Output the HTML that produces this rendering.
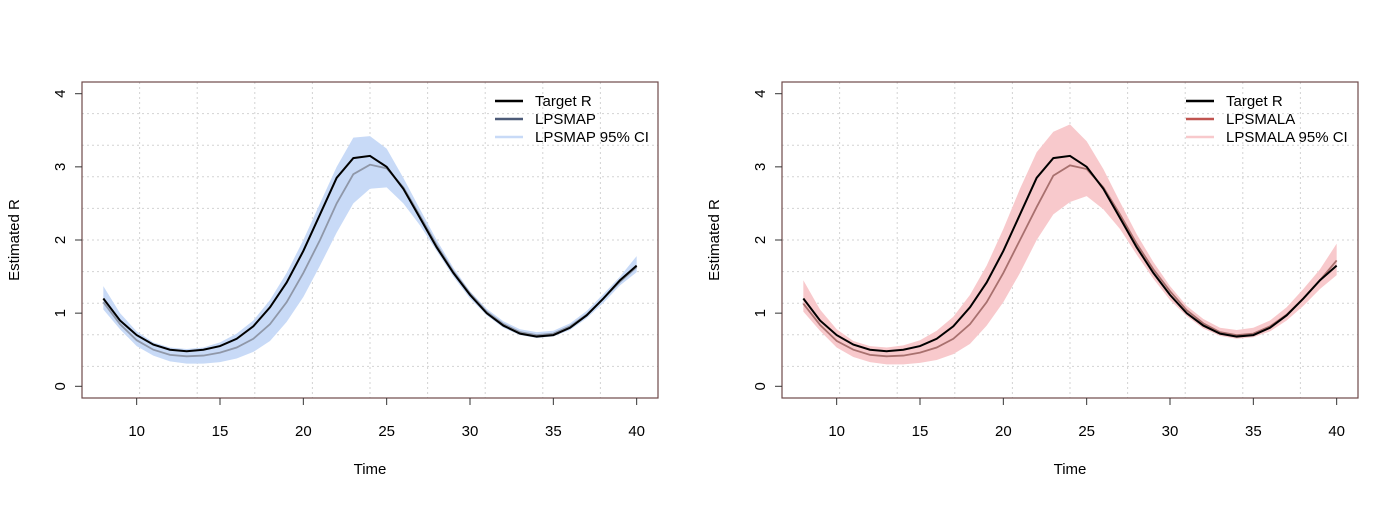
<!DOCTYPE html>
<html><head><meta charset="utf-8">
<style>
html,body{margin:0;padding:0;background:#fff;}
svg text{font-family:"Liberation Sans",Arial,sans-serif;fill:#000;}
</style></head>
<body>
<svg id="chart" width="1400" height="500" xmlns="http://www.w3.org/2000/svg"></svg>
<script>
const times = [8,9,10,11,12,13,14,15,16,17,18,19,20,21,22,23,24,25,26,27,28,29,30,31,32,33,34,35,36,37,38,39,40];
const targetR = [1.2,0.9,0.7,0.57,0.5,0.48,0.5,0.55,0.65,0.82,1.08,1.42,1.85,2.35,2.85,3.12,3.15,3.0,2.7,2.3,1.9,1.55,1.25,1.0,0.83,0.72,0.68,0.7,0.8,0.97,1.2,1.45,1.65];
const mapMean = [1.15,0.85,0.63,0.5,0.43,0.41,0.42,0.46,0.53,0.65,0.85,1.15,1.55,2.0,2.5,2.9,3.03,2.98,2.72,2.33,1.93,1.57,1.27,1.02,0.85,0.74,0.7,0.72,0.82,0.98,1.2,1.43,1.63];
const mapLower = [1.05,0.78,0.55,0.42,0.34,0.31,0.31,0.33,0.38,0.47,0.62,0.88,1.22,1.65,2.1,2.5,2.7,2.72,2.5,2.2,1.85,1.5,1.2,0.97,0.8,0.7,0.66,0.68,0.77,0.93,1.14,1.38,1.56];
const mapUpper = [1.37,1.0,0.75,0.6,0.53,0.51,0.53,0.6,0.72,0.9,1.18,1.55,2.0,2.5,3.0,3.4,3.42,3.25,2.85,2.42,2.0,1.62,1.3,1.06,0.89,0.78,0.74,0.76,0.86,1.03,1.26,1.5,1.78];
const malaMean = [1.13,0.84,0.62,0.5,0.43,0.41,0.42,0.46,0.53,0.65,0.85,1.15,1.55,2.0,2.45,2.88,3.02,2.97,2.72,2.35,1.95,1.6,1.3,1.04,0.86,0.74,0.7,0.72,0.82,0.98,1.2,1.45,1.72];
const malaLower = [1.02,0.76,0.53,0.4,0.33,0.3,0.3,0.32,0.36,0.44,0.58,0.83,1.15,1.55,2.0,2.35,2.52,2.6,2.42,2.15,1.8,1.47,1.18,0.96,0.79,0.69,0.65,0.67,0.75,0.9,1.1,1.33,1.52];
const malaUpper = [1.45,1.05,0.78,0.62,0.55,0.53,0.56,0.63,0.76,0.95,1.25,1.65,2.15,2.7,3.2,3.48,3.58,3.35,2.97,2.52,2.08,1.7,1.37,1.1,0.92,0.8,0.77,0.8,0.9,1.08,1.33,1.6,1.95];
const xTicks = [10,15,20,25,30,35,40];
const yTicks = [0,1,2,3,4];

const svg = document.getElementById('chart');
const NS = 'http://www.w3.org/2000/svg';
function mk(tag, attrs, parent){const e=document.createElementNS(NS,tag);for(const k in attrs)e.setAttribute(k,attrs[k]);(parent||svg).appendChild(e);return e;}

function panel(ox, name, mean, lower, upper, fillCol, lineCol, legCol, label){
  const g = mk('g',{});
  
  
  const L=82+ox, R=658+ox, T=82, B=398;
  const x0=6.72, x1=41.28, y0=-0.16, y1=4.16;
  const sx=t=>L+(t-x0)/(x1-x0)*(R-L);
  const sy=v=>B-(v-y0)/(y1-y0)*(B-T);
  const grid = mk('g',{stroke:'#d3d3d3','stroke-dasharray':'2,3','stroke-width':1},g);
  
  
  for(let k=1;k<10;k++){
    const gx=x0+(x1-x0)*k/10, gy=y0+(y1-y0)*k/10;
    mk('line',{x1:sx(gx),x2:sx(gx),y1:T,y2:B},grid);
    mk('line',{x1:L,x2:R,y1:sy(gy),y2:sy(gy)},grid);
  }
  let d='';
  times.forEach((t,i)=>{d+=(i?'L':'M')+sx(t)+','+sy(upper[i]);});
  for(let i=times.length-1;i>=0;i--) d+='L'+sx(times[i])+','+sy(lower[i]);
  const band=mk('path',{d:d+'Z',fill:fillCol,stroke:'none'},g);
  
  
  const ml=mk('polyline',{points:times.map((t,i)=>sx(t)+','+sy(mean[i])).join(' '),fill:'none',stroke:lineCol,'stroke-width':1.8},g);
  
  
  const tl=mk('polyline',{points:times.map((t,i)=>sx(t)+','+sy(targetR[i])).join(' '),fill:'none',stroke:'#000','stroke-width':2},g);
  
  
  const box=mk('rect',{x:L,y:T,width:R-L,height:B-T,fill:'none',stroke:'#6e4a4a','stroke-width':1.2},g);
  
  
  xTicks.forEach(t=>{
    mk('line',{x1:sx(t),x2:sx(t),y1:B,y2:B+7,stroke:'#333'},g);
    const tx=mk('text',{x:sx(t),y:436,'text-anchor':'middle','font-size':15},g);
    tx.textContent=t;
    
    
  });
  yTicks.forEach(v=>{
    mk('line',{x1:L-7,x2:L,y1:sy(v),y2:sy(v),stroke:'#333'},g);
    const tx=mk('text',{x:0,y:0,'text-anchor':'middle','font-size':15,transform:'translate('+(L-17)+','+sy(v)+') rotate(-90)'},g);
    tx.textContent=v;
    
    
  });
  const xt=mk('text',{x:(L+R)/2,y:474,'text-anchor':'middle','font-size':15},g);
  xt.textContent='Time';
  
  
  const yt=mk('text',{x:0,y:0,'text-anchor':'middle','font-size':15,transform:'translate('+(ox+19)+','+((T+B)/2)+') rotate(-90)'},g);
  yt.textContent='Estimated R';
  
  
  const lx = ox + (label==='LPSMAP'?495:486);
  const items=[['Target R','#000'],[label,legCol],[label+' 95% CI',fillCol]];
  items.forEach((it,i)=>{
    const y=101+i*18;
    const lg=mk('g',{},g);
    
    
    mk('line',{x1:lx,x2:lx+28,y1:y,y2:y,stroke:it[1],'stroke-width':2.5},lg);
    const tx=mk('text',{x:lx+40,y:y+5,'font-size':15},lg);
    tx.textContent=it[0];
  });
}
panel(0,'lpsmap-panel',mapMean,mapLower,mapUpper,'#c8daf7','#8f97a8','#4d5b78','LPSMAP');
panel(700,'lpsmala-panel',malaMean,malaLower,malaUpper,'#f8c9cc','#a8706e','#c05450','LPSMALA');
</script>
</body></html>
